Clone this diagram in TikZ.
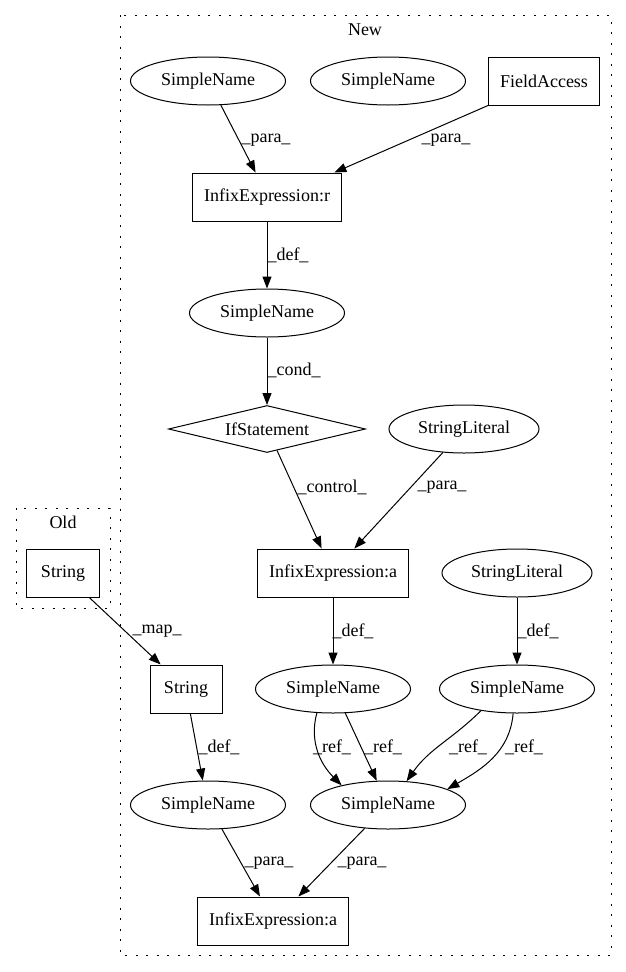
\documentclass[tikz,border=0pt]{standalone}
\usepackage{fontspec}
\setmainfont{Liberation Serif}
\usetikzlibrary{shapes.geometric,arrows.meta}

\begin{document}
\begin{tikzpicture}[x=1pt, y=1pt,
    every node/.style={font=\fontsize{18}{20}\selectfont},
    sname/.style={draw, ellipse, line width=1pt, minimum width=155pt, minimum height=48pt, inner sep=0pt},
    sbox/.style={draw, rectangle, line width=1pt, minimum height=48pt, inner xsep=11.5pt},
    sif/.style={draw, diamond, line width=1pt, minimum width=197pt, minimum height=47pt, inner sep=0pt, shape aspect=4},
    edge/.style={line width=1pt, -{Triangle[length=12pt, width=9pt]}},
    cluster/.style={line width=1pt, dash pattern=on 2pt off 8.5pt}]
    \useasboundingbox (0,0) rectangle (625,-972);

    % Clusters
    \draw[cluster] (120,-15) rectangle (611,-955);
    \node (newlbl) at (365,-30) {New};
    \draw[cluster] (16,-508) rectangle (110,-608);
    \node (oldlbl) at (63,-522) {Old};

    % Nodes of the new version
    \node[sname] (sn1) at (208,-81) {SimpleName};
    \node[sname] (sn2) at (388,-81) {SimpleName};
    \node[sbox, minimum width=111pt] (fa) at (544,-81) {FieldAccess};
    \node[sbox] (ier) at (267,-197) {InfixExpression:r};
    \node[sname] (sn3) at (267,-313) {SimpleName};
    \node[sif] (ifs) at (267,-429) {IfStatement};
    \node[sname, minimum width=150pt] (sl1) at (464,-429) {StringLiteral};
    \node[sbox] (iea) at (333,-573) {InfixExpression:a};
    \node[sname, minimum width=150pt] (sl2) at (517,-573) {StringLiteral};
    \node[sbox, minimum width=72pt] (nstr) at (186,-689) {String};
    \node[sname] (sn4) at (333,-689) {SimpleName};
    \node[sname] (sn5) at (517,-689) {SimpleName};
    \node[sname] (sn6) at (208,-805) {SimpleName};
    \node[sname] (sn7) at (388,-805) {SimpleName};
    \node[sbox] (iea2) at (273,-921) {InfixExpression:a};

    % Node of the old version
    \node[sbox, minimum width=73pt] (ostr) at (63,-573) {String};

    % Edges
    \draw[edge] (sn1.-62) -- (ier.115);
    \draw[edge] (fa.south west) -- (ier.20);
    \draw[edge] (ier.south) -- (sn3.north);
    \draw[edge] (sn3.south) -- (ifs.north);
    \draw[edge] (ifs.-65) -- (iea.115);
    \draw[edge] (sl1.-132) -- (iea.49);
    \draw[edge] (ostr.-43) -- (nstr.136);
    \draw[edge] (iea.south) -- (sn4.north);
    \draw[edge] (sl2.south) -- (sn5.north);
    \draw[edge] (nstr.-80) -- (sn6.102);
    \draw[edge] (sn4.-124) to[out=-105, in=135] (sn7.157);
    \draw[edge] (sn4.-63) -- (sn7.115);
    \draw[edge] (sn5.-149) to[out=-135, in=55] (sn7.52);
    \draw[edge] (sn5.-99) to[out=-95, in=30] (sn7.15);
    \draw[edge] (sn6.-60) -- (iea2.118);
    \draw[edge] (sn7.-135) -- (iea2.44);

    % Edge labels
    \node (lpara1) at (266,-140) {\_para\_};
    \node (lpara2) at (446,-140) {\_para\_};
    \node (ldef1) at (288,-255) {\_def\_};
    \node (lcond) at (294,-370) {\_cond\_};
    \node (lcontrol) at (332,-487) {\_control\_};
    \node (lpara3) at (442,-487) {\_para\_};
    \node (lmap) at (157,-631) {\_map\_};
    \node (ldef2) at (353,-631) {\_def\_};
    \node (ldef3) at (538,-631) {\_def\_};
    \node (ldef4) at (219,-747) {\_def\_};
    \node (lref1) at (332,-747) {\_ref\_};
    \node (lref2) at (383,-747) {\_ref\_};
    \node (lref3) at (468,-747) {\_ref\_};
    \node (lref4) at (524,-747) {\_ref\_};
    \node (lpara4) at (269,-863) {\_para\_};
    \node (lpara5) at (362,-863) {\_para\_};
\end{tikzpicture}
\end{document}
